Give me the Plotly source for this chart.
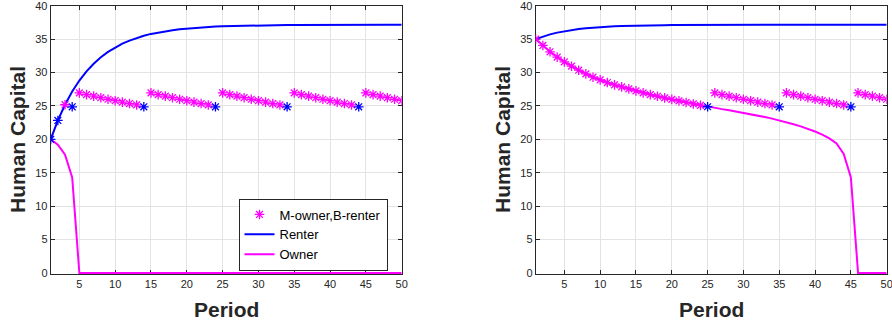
import plotly.graph_objects as go

period = list(range(1, 51))

# ---------------- Left panel data ----------------
renter_left = [20.0, 22.83, 25.18, 27.15, 28.8, 30.17, 31.32, 32.28, 33.09, 33.75,
               34.32, 34.78, 35.18, 35.5, 35.78, 36.0, 36.19, 36.34, 36.48, 36.58,
               36.69, 36.76, 36.82, 36.88, 36.93, 36.96, 36.99, 37.02, 37.04, 37.06,
               37.07, 37.09, 37.1, 37.11, 37.12, 37.13, 37.13, 37.14, 37.14, 37.14,
               37.15, 37.15, 37.15, 37.15, 37.15, 37.15, 37.15, 37.15, 37.15, 37.15]

owner_left = [20.0, 19.2, 17.7, 14.3, 0, 0, 0, 0, 0, 0,
              0, 0, 0, 0, 0, 0, 0, 0, 0, 0,
              0, 0, 0, 0, 0, 0, 0, 0, 0, 0,
              0, 0, 0, 0, 0, 0, 0, 0, 0, 0,
              0, 0, 0, 0, 0, 0, 0, 0, 0, 0]

mix_magenta_left = [None, None, 25.18, None,
                    26.95, 26.7, 26.47, 26.23, 26.0, 25.78, 25.57, 25.36, 25.15, None,
                    26.95, 26.7, 26.47, 26.23, 26.0, 25.78, 25.57, 25.36, 25.15, None,
                    26.95, 26.7, 26.47, 26.23, 26.0, 25.78, 25.57, 25.36, 25.15, None,
                    26.95, 26.7, 26.47, 26.23, 26.0, 25.78, 25.57, 25.36, 25.15, None,
                    26.95, 26.7, 26.47, 26.23, 26.0, 25.78]

mix_blue_left = [20.0, 22.83, None, 24.87,
                 None, None, None, None, None, None, None, None, None, 24.87,
                 None, None, None, None, None, None, None, None, None, 24.87,
                 None, None, None, None, None, None, None, None, None, 24.87,
                 None, None, None, None, None, None, None, None, None, 24.87,
                 None, None, None, None, None, None]

# ---------------- Right panel data ----------------
renter_right = [35.0, 35.39, 35.71, 35.97, 36.18, 36.36, 36.5, 36.62, 36.72, 36.8,
                36.86, 36.91, 36.95, 36.99, 37.02, 37.04, 37.06, 37.08, 37.09, 37.1,
                37.11, 37.12, 37.12, 37.13, 37.13, 37.14, 37.14, 37.14, 37.15, 37.15,
                37.15, 37.15, 37.15, 37.15, 37.15, 37.15, 37.15, 37.15, 37.15, 37.15,
                37.15, 37.15, 37.15, 37.15, 37.15, 37.15, 37.15, 37.15, 37.15, 37.15]

owner_right = [35.0, 34.05, 33.1, 32.3, 31.6, 30.95, 30.35, 29.8, 29.3, 28.9,
               28.5, 28.15, 27.85, 27.55, 27.25, 26.95, 26.7, 26.45, 26.2, 25.98,
               25.75, 25.52, 25.3, 25.08, 24.88, 24.7, 24.52, 24.34, 24.16, 23.97,
               23.77, 23.56, 23.34, 23.1, 22.85, 22.57, 22.27, 21.94, 21.58, 21.17,
               20.7, 20.13, 19.4, 17.8, 14.3, 0, 0, 0, 0, 0]

mix_magenta_right = [35.0, 34.05, 33.1, 32.3, 31.6, 30.95, 30.35, 29.8, 29.3, 28.9,
                     28.5, 28.15, 27.85, 27.55, 27.25, 26.95, 26.7, 26.45, 26.2, 25.98,
                     25.75, 25.52, 25.3, 25.08, None,
                     26.95, 26.7, 26.47, 26.23, 26.0, 25.78, 25.57, 25.36, 25.15, None,
                     26.95, 26.7, 26.47, 26.23, 26.0, 25.78, 25.57, 25.36, 25.15, None,
                     26.95, 26.7, 26.47, 26.23, 26.0]

mix_blue_right = [None, None, None, None, None, None, None, None, None, None,
                  None, None, None, None, None, None, None, None, None, None,
                  None, None, None, None, 24.88,
                  None, None, None, None, None, None, None, None, None, 24.87,
                  None, None, None, None, None, None, None, None, None, 24.87,
                  None, None, None, None, None]

x_ticks = [5, 10, 15, 20, 25, 30, 35, 40, 45, 50]
y_ticks = [0, 5, 10, 15, 20, 25, 30, 35, 40]

MAGENTA = "#ff00ff"
BLUE = "#0000ff"
AXC = "#262626"
FONT = "Liberation Sans, Arial, sans-serif"

fig = go.Figure()

panels = [
    ("x", "y", renter_left, owner_left, mix_magenta_left, mix_blue_left, True),
    ("x2", "y2", renter_right, owner_right, mix_magenta_right, mix_blue_right, False),
]
for xa, ya, ren, own, mm, mb, legend in panels:
    fig.add_trace(go.Scatter(x=period, y=ren, mode="lines", name="Renter",
                             line=dict(color=BLUE, width=2), xaxis=xa, yaxis=ya,
                             showlegend=legend, legendrank=2))
    fig.add_trace(go.Scatter(x=period, y=own, mode="lines", name="Owner",
                             line=dict(color=MAGENTA, width=2), xaxis=xa, yaxis=ya,
                             showlegend=legend, legendrank=3))
    fig.add_trace(go.Scatter(x=period, y=mm, mode="markers", name="M-owner,B-renter",
                             marker=dict(symbol="asterisk-open", size=8, color=MAGENTA,
                                         line=dict(color=MAGENTA, width=1.3)),
                             xaxis=xa, yaxis=ya, showlegend=legend, legendrank=1))
    fig.add_trace(go.Scatter(x=period, y=mb, mode="markers", name="B",
                             marker=dict(symbol="asterisk-open", size=8, color=BLUE,
                                         line=dict(color=BLUE, width=1.3)),
                             xaxis=xa, yaxis=ya, showlegend=False))

axis_common = dict(showgrid=True, gridcolor="#e3e3e3", gridwidth=1,
                   showline=True, linecolor=AXC, linewidth=1, mirror="ticks",
                   ticks="inside", ticklen=4, tickcolor=AXC, zeroline=False,
                   automargin=False, layer="below traces", ticklabeloverflow="allow",
                   tickfont=dict(family=FONT, size=11, color=AXC))

Y0 = 1 - 274 / 329
Y1 = 1 - 5.7 / 329
fig.update_layout(
    width=892, height=329,
    margin=dict(l=0, r=0, t=0, b=0, autoexpand=False),
    paper_bgcolor="white", plot_bgcolor="white",
    xaxis=dict(domain=[50.7 / 892, 401.7 / 892], range=[1, 50], tickvals=x_ticks, anchor="y", **axis_common),
    yaxis=dict(domain=[Y0, Y1], range=[-0.15, 40], tickvals=y_ticks, anchor="x", **axis_common),
    xaxis2=dict(domain=[535.7 / 892, 886.7 / 892], range=[1, 50], tickvals=x_ticks, anchor="y2", **axis_common),
    yaxis2=dict(domain=[Y0, Y1], range=[-0.15, 40], tickvals=y_ticks, anchor="x2", **axis_common),
    legend=dict(x=238.5 / 892, y=1 - 198.5 / 329, xanchor="left", yanchor="top",
                bgcolor="white", bordercolor=AXC, borderwidth=1,
                font=dict(family=FONT, size=13, color="black"),
                itemwidth=30, tracegroupgap=0),
    showlegend=True,
)

for cx in [226, 711]:
    fig.add_annotation(text="<b>Period</b>", x=cx / 892, y=1 - 309 / 329, xref="paper", yref="paper",
                       showarrow=False, font=dict(family=FONT, size=21, color=AXC),
                       xanchor="center", yanchor="middle")
for cx in [18, 503]:
    fig.add_annotation(text="<b>Human Capital</b>", x=cx / 892, y=1 - 140 / 329, xref="paper", yref="paper",
                       showarrow=False, textangle=-90, font=dict(family=FONT, size=21, color=AXC),
                       xanchor="center", yanchor="middle")

fig.write_html("out.html")
